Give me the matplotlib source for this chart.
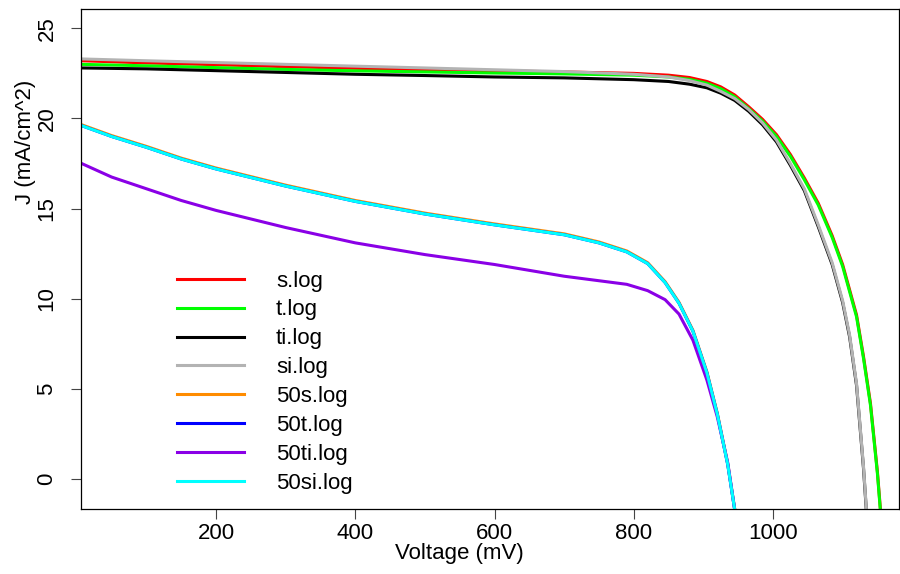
import matplotlib
matplotlib.use("Agg")
import matplotlib.pyplot as plt

# voltage grids (mV)
v_full = [7, 100, 200, 300, 400, 500, 600, 700, 800, 850, 880, 905, 925, 945,
          965, 985, 1005, 1025, 1045, 1065, 1085, 1100, 1110, 1120, 1130, 1140,
          1150, 1160]
v_50 = [7, 50, 100, 150, 200, 300, 400, 500, 600, 700, 750, 790, 820, 845, 865,
        885, 905, 920, 935, 945, 955]

# current density (mA/cm^2)
j_s = [23.2, 23.08, 22.98, 22.87, 22.78, 22.7, 22.64, 22.58, 22.5, 22.4, 22.27,
       22.05, 21.75, 21.3, 20.65, 19.95, 19.1, 18.0, 16.7, 15.3, 13.5, 11.9,
       10.5, 9.1, 6.8, 4.2, 0.4, -4.4]
j_t = [23.0, 22.92, 22.82, 22.72, 22.64, 22.58, 22.52, 22.47, 22.4, 22.3, 22.17,
       21.95, 21.65, 21.2, 20.55, 19.85, 19.0, 17.9, 16.6, 15.2, 13.4, 11.8,
       10.4, 9.0, 6.7, 4.1, 0.3, -4.5]
j_ti = [22.8, 22.75, 22.65, 22.55, 22.45, 22.38, 22.3, 22.25, 22.15, 22.05, 21.9,
        21.7, 21.4, 21.0, 20.4, 19.65, 18.7, 17.4, 16.0, 14.0, 11.9, 9.8, 7.9,
        5.2, 0.6, -5.1, -10.0, -15.0]
j_si = [23.3, 23.2, 23.1, 23.0, 22.9, 22.8, 22.7, 22.6, 22.45, 22.3, 22.1, 21.85,
        21.5, 21.1, 20.5, 19.75, 18.8, 17.5, 16.1, 14.1, 12.0, 9.9, 8.0, 5.3,
        0.7, -5.0, -10.0, -15.0]
j_50s = [19.65, 19.05, 18.45, 17.8, 17.25, 16.3, 15.45, 14.75, 14.15, 13.6,
         13.15, 12.65, 12.0, 10.95, 9.8, 8.25, 5.95, 3.65, 0.85, -1.65, -4.45]
j_50t = [19.6, 19.0, 18.4, 17.75, 17.2, 16.25, 15.4, 14.7, 14.1, 13.55, 13.1,
         12.6, 11.95, 10.9, 9.75, 8.2, 5.9, 3.6, 0.8, -1.7, -4.5]
j_50ti = [17.5, 16.75, 16.1, 15.45, 14.9, 13.95, 13.1, 12.45, 11.9, 11.25, 11.0,
          10.8, 10.45, 9.95, 9.15, 7.7, 5.5, 3.45, 0.9, -1.7, -4.5]
j_50si = [19.6, 19.0, 18.4, 17.75, 17.2, 16.25, 15.4, 14.7, 14.1, 13.55, 13.1,
          12.6, 11.95, 10.9, 9.75, 8.2, 5.9, 3.6, 0.8, -1.7, -4.5]

labels = ["s.log", "t.log", "ti.log", "si.log", "50s.log", "50t.log", "50ti.log", "50si.log"]
colors = ["#FF0000", "#00FF00", "#000000", "#B3B3B3", "#FF8C00", "#0000FF", "#8A00E6", "#00FFFF"]
xs = [v_full] * 4 + [v_50] * 4
ys = [j_s, j_t, j_ti, j_si, j_50s, j_50t, j_50ti, j_50si]

plt.rcParams['font.family'] = ['Liberation Sans', 'DejaVu Sans']

fig = plt.figure(figsize=(9, 5.74), dpi=100)
ax = fig.add_axes([81 / 900, 65 / 574, 818 / 900, 500 / 574])

for x, y, c, lab in zip(xs, ys, colors, labels):
    ax.plot(x, y, color=c, lw=2.2, label=lab, solid_joinstyle='round')

ax.set_xlim(6, 1181)
ax.set_ylim(-1.66, 26.07)
ax.set_xticks([200, 400, 600, 800, 1000])
ax.set_yticks([0, 5, 10, 15, 20, 25])
ax.tick_params(direction='out', length=7, width=0.8, labelsize=16, color='#444444')
ax.tick_params(axis='x', pad=3)
ax.tick_params(axis='y', pad=10, labelrotation=90)
for t in ax.get_yticklabels():
    t.set_va('center')
for s in ax.spines.values():
    s.set_linewidth(0.9)

fig.text(459 / 900, 1 - 554 / 574, "Voltage (mV)", ha='center', va='center', fontsize=16)
fig.text(26 / 900, 1 - 142 / 574, "J (mA/cm^2)", ha='center', va='center', fontsize=16,
         rotation=90)

ax.legend(loc='upper left', bbox_to_anchor=((177 - 81) / 818, (509 - 270.5) / 500),
          frameon=False, fontsize=16, handlelength=3.0, handletextpad=1.45,
          labelspacing=0.355, borderpad=0, borderaxespad=0)

fig.savefig("out.png", dpi=100)
